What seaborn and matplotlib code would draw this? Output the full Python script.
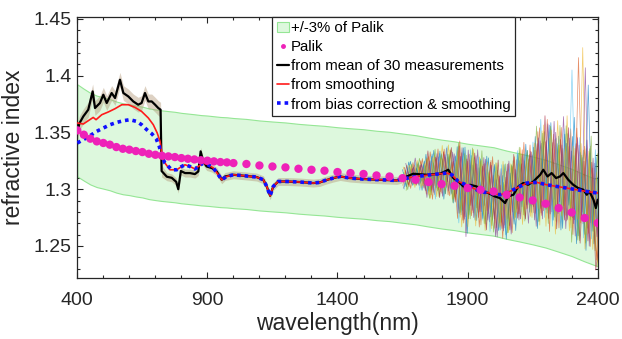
import numpy as np
import pandas as pd
import matplotlib
matplotlib.use("Agg")
import matplotlib.pyplot as plt
from matplotlib.patches import Patch
from matplotlib.lines import Line2D
from matplotlib.ticker import MultipleLocator
import seaborn as sns

# ---------------- data ----------------
palik_wl = [400, 425, 450, 475, 500, 525, 550, 575, 600, 625, 650, 675, 700, 725, 750, 775,
            800, 825, 850, 875, 900, 925, 950, 975, 1000,
            1050, 1100, 1150, 1200, 1250, 1300, 1350, 1400, 1450, 1500, 1550, 1600, 1650,
            1700, 1750, 1800, 1850, 1900, 1950, 2000, 2050, 2100, 2150, 2200, 2250, 2300,
            2350, 2400]
palik_n = [1.3518, 1.3480, 1.3445, 1.3421, 1.3407, 1.3392, 1.3371, 1.3356, 1.3348, 1.3336,
           1.3327, 1.3312, 1.3303, 1.3295, 1.3289, 1.3283, 1.3274, 1.3268, 1.3262, 1.3255,
           1.3251, 1.3245, 1.3239, 1.3236, 1.3230,
           1.3222, 1.3209, 1.3200, 1.3192, 1.3180, 1.3171, 1.3163, 1.3151, 1.3142, 1.3134,
           1.3121, 1.3112, 1.3097, 1.3083, 1.3063, 1.3045, 1.3030, 1.3010, 1.2995, 1.2980,
           1.2951, 1.2927, 1.2901, 1.2872, 1.2834, 1.2795, 1.2746, 1.2702]

mean_wl = [400, 408, 423, 442, 459, 468, 487, 500, 513, 532, 545, 564, 577, 596, 615, 634,
           647, 660, 673, 686, 699, 711, 720, 724, 744, 763, 780, 788, 798, 814, 833, 852,
           865, 874, 884, 897, 917, 936, 955, 968, 1000, 1038, 1089, 1115, 1128, 1141, 1153,
           1172, 1205, 1256, 1307, 1333, 1352, 1384, 1410, 1448, 1499, 1563, 1628, 1647,
           1666, 1691, 1743, 1794, 1826, 1845, 1864, 1897, 1909, 1935, 1960, 1980, 2005,
           2024, 2044, 2056, 2076, 2095, 2114, 2133, 2153, 2166, 2179, 2191, 2207, 2223,
           2240, 2255, 2268, 2287, 2306, 2325, 2345, 2358, 2368, 2384, 2393, 2400]
mean_n = [1.3500, 1.3580, 1.3641, 1.3700, 1.3861, 1.3715, 1.3759, 1.3832, 1.3759, 1.3847,
          1.3803, 1.3964, 1.3847, 1.3817, 1.3773, 1.3744, 1.3759, 1.3847, 1.3773, 1.3773,
          1.3744, 1.3715, 1.3700, 1.3160, 1.3110, 1.3100, 1.3065, 1.3000, 1.3160, 1.3142,
          1.3142, 1.3133, 1.3156, 1.3333, 1.3245, 1.3200, 1.3186, 1.3156, 1.3083, 1.3112,
          1.3127, 1.3119, 1.3107, 1.3083, 1.3024, 1.2942, 1.3024, 1.3068, 1.3068, 1.3063,
          1.3054, 1.3060, 1.3077, 1.3098, 1.3112, 1.3098, 1.3089, 1.3083, 1.3077, 1.3089,
          1.3112, 1.3136, 1.3127, 1.3136, 1.3171, 1.3098, 1.3068, 1.2995, 1.3039, 1.3024,
          1.2980, 1.2966, 1.2936, 1.2922, 1.2878, 1.2936, 1.2951, 1.3024, 1.3054, 1.3039,
          1.3068, 1.3098, 1.3127, 1.3171, 1.3112, 1.3142, 1.3098, 1.3112, 1.3142, 1.3083,
          1.3039, 1.3010, 1.2995, 1.2951, 1.2980, 1.2907, 1.2834, 1.2907]

common_wl = [763, 782, 801, 814, 833, 852, 865, 884, 903, 923, 942, 955, 974, 1000, 1038,
             1089, 1115, 1128, 1141, 1153, 1172, 1205, 1256, 1307, 1333, 1352, 1384, 1410,
             1448, 1499, 1563, 1628, 1647, 1691, 1757, 1820, 1839, 1864, 1909, 1948, 1986,
             2024, 2050, 2089, 2127, 2166, 2204, 2243, 2281, 2319, 2358, 2400]
common_n = [1.3171, 1.3171, 1.3200, 1.3215, 1.3200, 1.3178, 1.3200, 1.3230, 1.3215, 1.3186,
            1.3127, 1.3083, 1.3112, 1.3127, 1.3119, 1.3107, 1.3083, 1.3024, 1.2942, 1.3024,
            1.3068, 1.3068, 1.3063, 1.3054, 1.3060, 1.3077, 1.3098, 1.3112, 1.3098, 1.3089,
            1.3083, 1.3077, 1.3089, 1.3107, 1.3127, 1.3142, 1.3127, 1.3068, 1.3024, 1.2980,
            1.2966, 1.2951, 1.2966, 1.3010, 1.3054, 1.3060, 1.3039, 1.3024, 1.3010, 1.2995,
            1.2980, 1.2966]

smooth_wl = [400, 423, 442, 461, 472, 494, 519, 545, 571, 596, 622, 647, 673, 692, 707, 718,
             724, 737, 756] + common_wl
smooth_n = [1.3583, 1.3574, 1.3603, 1.3632, 1.3612, 1.3656, 1.3680, 1.3709, 1.3744, 1.3744,
            1.3720, 1.3685, 1.3627, 1.3568, 1.3495, 1.3421, 1.3333, 1.3230, 1.3171] + common_n

bias_wl = [400, 423, 449, 474, 500, 526, 551, 577, 602, 628, 647, 667, 686, 703, 715, 724,
           737] + common_wl
bias_n = [1.3407, 1.3436, 1.3471, 1.3509, 1.3539, 1.3568, 1.3588, 1.3603, 1.3612, 1.3597,
          1.3568, 1.3524, 1.3489, 1.3445, 1.3377, 1.3289, 1.3230] + common_n

# spread of the 30 measurements around their mean where they are calm
spread_wl = [400, 720, 730, 1650]
spread_n = [0.0065, 0.0065, 0.0035, 0.0035]

# deviations (x1e-3) of individual measurements from the mean, 1650-2400 nm every 15 nm
meas_dev = [
    [8,-9,12,-5,10,-14,18,-15,21,-9,17,-20,14,-22,30,-27,36, -25,18,-30,27,-12,31,-22,15,-28,33,-19,26,-35,22,-14,30,-26, 38,-40,25,-33,45,-20,36,-48,30,-25,60,-42,28,-50,35,-38,20],
    [-6,10,-12,8,-9,14,-17,20,-10,22,-18,12,-21,15,-33,28,-25, 28,-24,20,-31,25,-18,34,-27,12,-20,29,-33,18,-25,36,-21,27, -30,42,-36,50,-28,33,-45,22,-38,47,-30,115,-20,40,-47,30,-55],
    [10,-5,8,-12,6,-10,14,-21,17,-14,24,-12,20,-18,27,-37,22, -20,32,-15,26,-34,20,-10,30,-24,16,-32,25,-20,33,-28,19,-31, 25,-44,40,-26,38,-50,28,-32,55,-40,33,-27,125,-35,42,-30,-60],
    [-9,6,-8,14,-10,8,-20,12,-18,15,-21,20,-14,22,-28,33,-42, 22,-28,33,-19,29,-25,18,-35,27,-22,31,-15,26,-30,20,-34,24, -42,30,-25,46,-34,40,-22,50,-36,28,-44,38,-30,48,-25,36,-45],
    [5,-12,9,-6,14,-8,15,-18,22,-20,12,-15,21,-16,34,-22,30, -30,25,-22,35,-28,15,-32,24,-20,34,-26,30,-18,27,-33,22,-20, 46,-30,35,-42,22,-38,45,-28,40,-52,25,-46,35,-30,52,-40,32],
    [-10,8,-6,10,-14,9,-15,16,-22,18,-14,21,-18,14,-36,26,-32, 31,-22,27,-26,20,-33,26,-17,31,-29,24,-21,33,-24,27,-18,35, -36,48,-40,30,-46,35,-30,40,-26,100,-35,45,-42,30,-38,50,-48],
    [9,-8,5,-10,8,-12,21,-14,15,-21,18,-10,24,-20,32,-30,27, -18,29,-26,22,-33,28,-20,33,-25,21,-30,35,-27,18,-31,26,-22, 30,-35,50,-38,28,-45,32,-40,46,-30,38,-48,26,-42,30,-55,-35],
    [-8,12,-10,5,-8,12,-14,18,-12,20,-24,14,-16,21,-27,34,-39, 26,-30,18,-24,32,-20,28,-29,22,-34,20,-27,29,-20,35,-25,30, -45,26,-32,44,-40,30,-48,36,-22,42,-50,32,-38,95,-30,44,-40],
    [6,-10,10,-9,12,-6,16,-22,14,-16,20,-22,12,-18,37,-32,24, -27,20,-34,24,-16,30,-28,20,-33,25,-17,32,-24,30,-22,34,-28, 40,-38,28,-50,36,-26,42,-35,30,-44,52,-30,40,-36,26,-48,28],
    [-5,9,-9,12,-12,10,-18,15,-20,14,-16,22,-20,16,-30,24,-34, 24,-35,28,-20,27,-30,22,-26,35,-18,28,-24,20,-36,24,-29,33, -28,36,-46,32,-30,50,-36,26,-44,34,-28,40,-50,36,-45,28,-65],
    [12,-6,6,-8,9,-14,12,-16,18,-12,15,-18,22,-12,24,-28,33, -22,27,-20,30,-24,26,-35,19,-26,30,-34,20,-30,25,-18,28,-35, 34,-42,30,-35,48,-32,26,-46,38,-34,44,-25,110,-48,36,-30,42],
    [-12,5,-10,9,-6,8,-21,10,-15,16,-20,15,-22,18,-25,30,-28, 33,-19,25,-28,18,-27,30,-22,17,-31,27,-23,34,-28,30,-20,26, -40,33,-30,42,-36,28,-40,45,-34,26,-46,30,-44,38,-28,42,-50],
]

x_ticks = [400, 900, 1400, 1900, 2400]
y_ticks = [1.25, 1.3, 1.35, 1.4, 1.45]
labels = ["+/-3% of Palik", "Palik", "from mean of 30 measurements",
          "from smoothing", "from bias correction & smoothing"]

# ---------------- style ----------------
sns.set_style("ticks")
plt.rcParams["font.family"] = ["Liberation Sans", "DejaVu Sans"]
TXT = "#262626"
matlab_colors = ["#0072BD", "#D95319", "#EDB120", "#7E2F8E", "#77AC30", "#4DBEEE", "#A2142F"]

fig = plt.figure(figsize=(6.22, 3.39), dpi=100)
ax = fig.add_axes([0.1243, 0.179, 0.8366, 0.772])

palik_wl_a = np.array(palik_wl)
palik_n_a = np.array(palik_n)
ax.fill_between(palik_wl_a, palik_n_a * 0.97, palik_n_a * 1.03,
                facecolor="#ddf8dd", edgecolor="#95e695", linewidth=0.8, zorder=1)

# calm-region spread of measurements
calm_wl = np.array([w for w in mean_wl if w <= 1650])
calm_mean = np.array(mean_n[:len(calm_wl)])
calm_spread = np.interp(calm_wl, spread_wl, spread_n)
ax.fill_between(calm_wl, calm_mean - calm_spread, calm_mean + calm_spread,
                color="#b49a7a", alpha=0.45, linewidth=0, zorder=2)

# noisy individual measurements (each sampled on its own slightly shifted grid)
rows = []
for k, dev in enumerate(meas_dev):
    wl_k = np.arange(len(dev)) * 15.0 + 1650 + k * 1.25
    base_k = np.interp(wl_k, mean_wl, mean_n)
    for w, b, d in zip(wl_k, base_k, dev):
        rows.append({"wl": w, "n": b + d / 1000.0, "m": k})
meas_df = pd.DataFrame(rows)
for k in range(len(meas_dev)):
    sub = meas_df[meas_df.m == k]
    sns.lineplot(data=sub, x="wl", y="n", color=matlab_colors[k % 7], linewidth=0.5,
                 alpha=0.65, ax=ax, zorder=3)

sns.lineplot(x=mean_wl, y=mean_n, color="black", linewidth=1.6, ax=ax, zorder=4)
sns.lineplot(x=smooth_wl, y=smooth_n, color="#ff1a1a", linewidth=1.2, ax=ax, zorder=5)
sns.lineplot(x=bias_wl, y=bias_n, color="#1010ff", linewidth=2.6, linestyle=(0, (1, 1.1)),
             ax=ax, zorder=6)
sns.scatterplot(x=palik_wl, y=palik_n, color="#ee22b8", s=36, edgecolor="none", ax=ax, zorder=7)

ax.set_xlim(400, 2400)
ax.set_ylim(1.2215, 1.452)
ax.set_xticks(x_ticks)
ax.set_yticks(y_ticks)
ax.set_yticklabels(["1.25", "1.3", "1.35", "1.4", "1.45"])
ax.xaxis.set_minor_locator(MultipleLocator(100))
ax.yaxis.set_minor_locator(MultipleLocator(0.01))
ax.tick_params(which="both", direction="in", top=True, right=True, colors=TXT,
               labelsize=14, width=0.8)
ax.tick_params(which="major", length=4)
ax.tick_params(axis="x", which="major", pad=10)
ax.tick_params(axis="y", which="major", pad=4)
ax.tick_params(which="minor", length=2.5)
for s in ax.spines.values():
    s.set_color(TXT)
    s.set_linewidth(0.9)
ax.set_xlabel("wavelength(nm)", fontsize=16.5, color=TXT, labelpad=2)
ax.set_ylabel("refractive index", fontsize=16.5, color=TXT, labelpad=6)

handles = [
    Patch(facecolor="#ddf8dd", edgecolor="#95e695", linewidth=0.8),
    Line2D([], [], linestyle="none", marker="o", markersize=2.5, color="#ee22b8"),
    Line2D([], [], color="black", linewidth=1.6),
    Line2D([], [], color="#ff1a1a", linewidth=1.2),
    Line2D([], [], color="#1010ff", linewidth=2.6, linestyle=(0, (1, 1.1))),
]
leg = ax.legend(handles, labels, loc="upper left", bbox_to_anchor=(0.375, 1.0),
                borderaxespad=0, fontsize=10.8, frameon=True, fancybox=False,
                framealpha=1, edgecolor=TXT, handlelength=0.8, handletextpad=0.15,
                labelspacing=0.34, borderpad=0.3)
leg.get_frame().set_linewidth(0.9)
leg.set_zorder(10)
for t in leg.get_texts():
    t.set_color("black")

fig.savefig("out.png", dpi=100)
